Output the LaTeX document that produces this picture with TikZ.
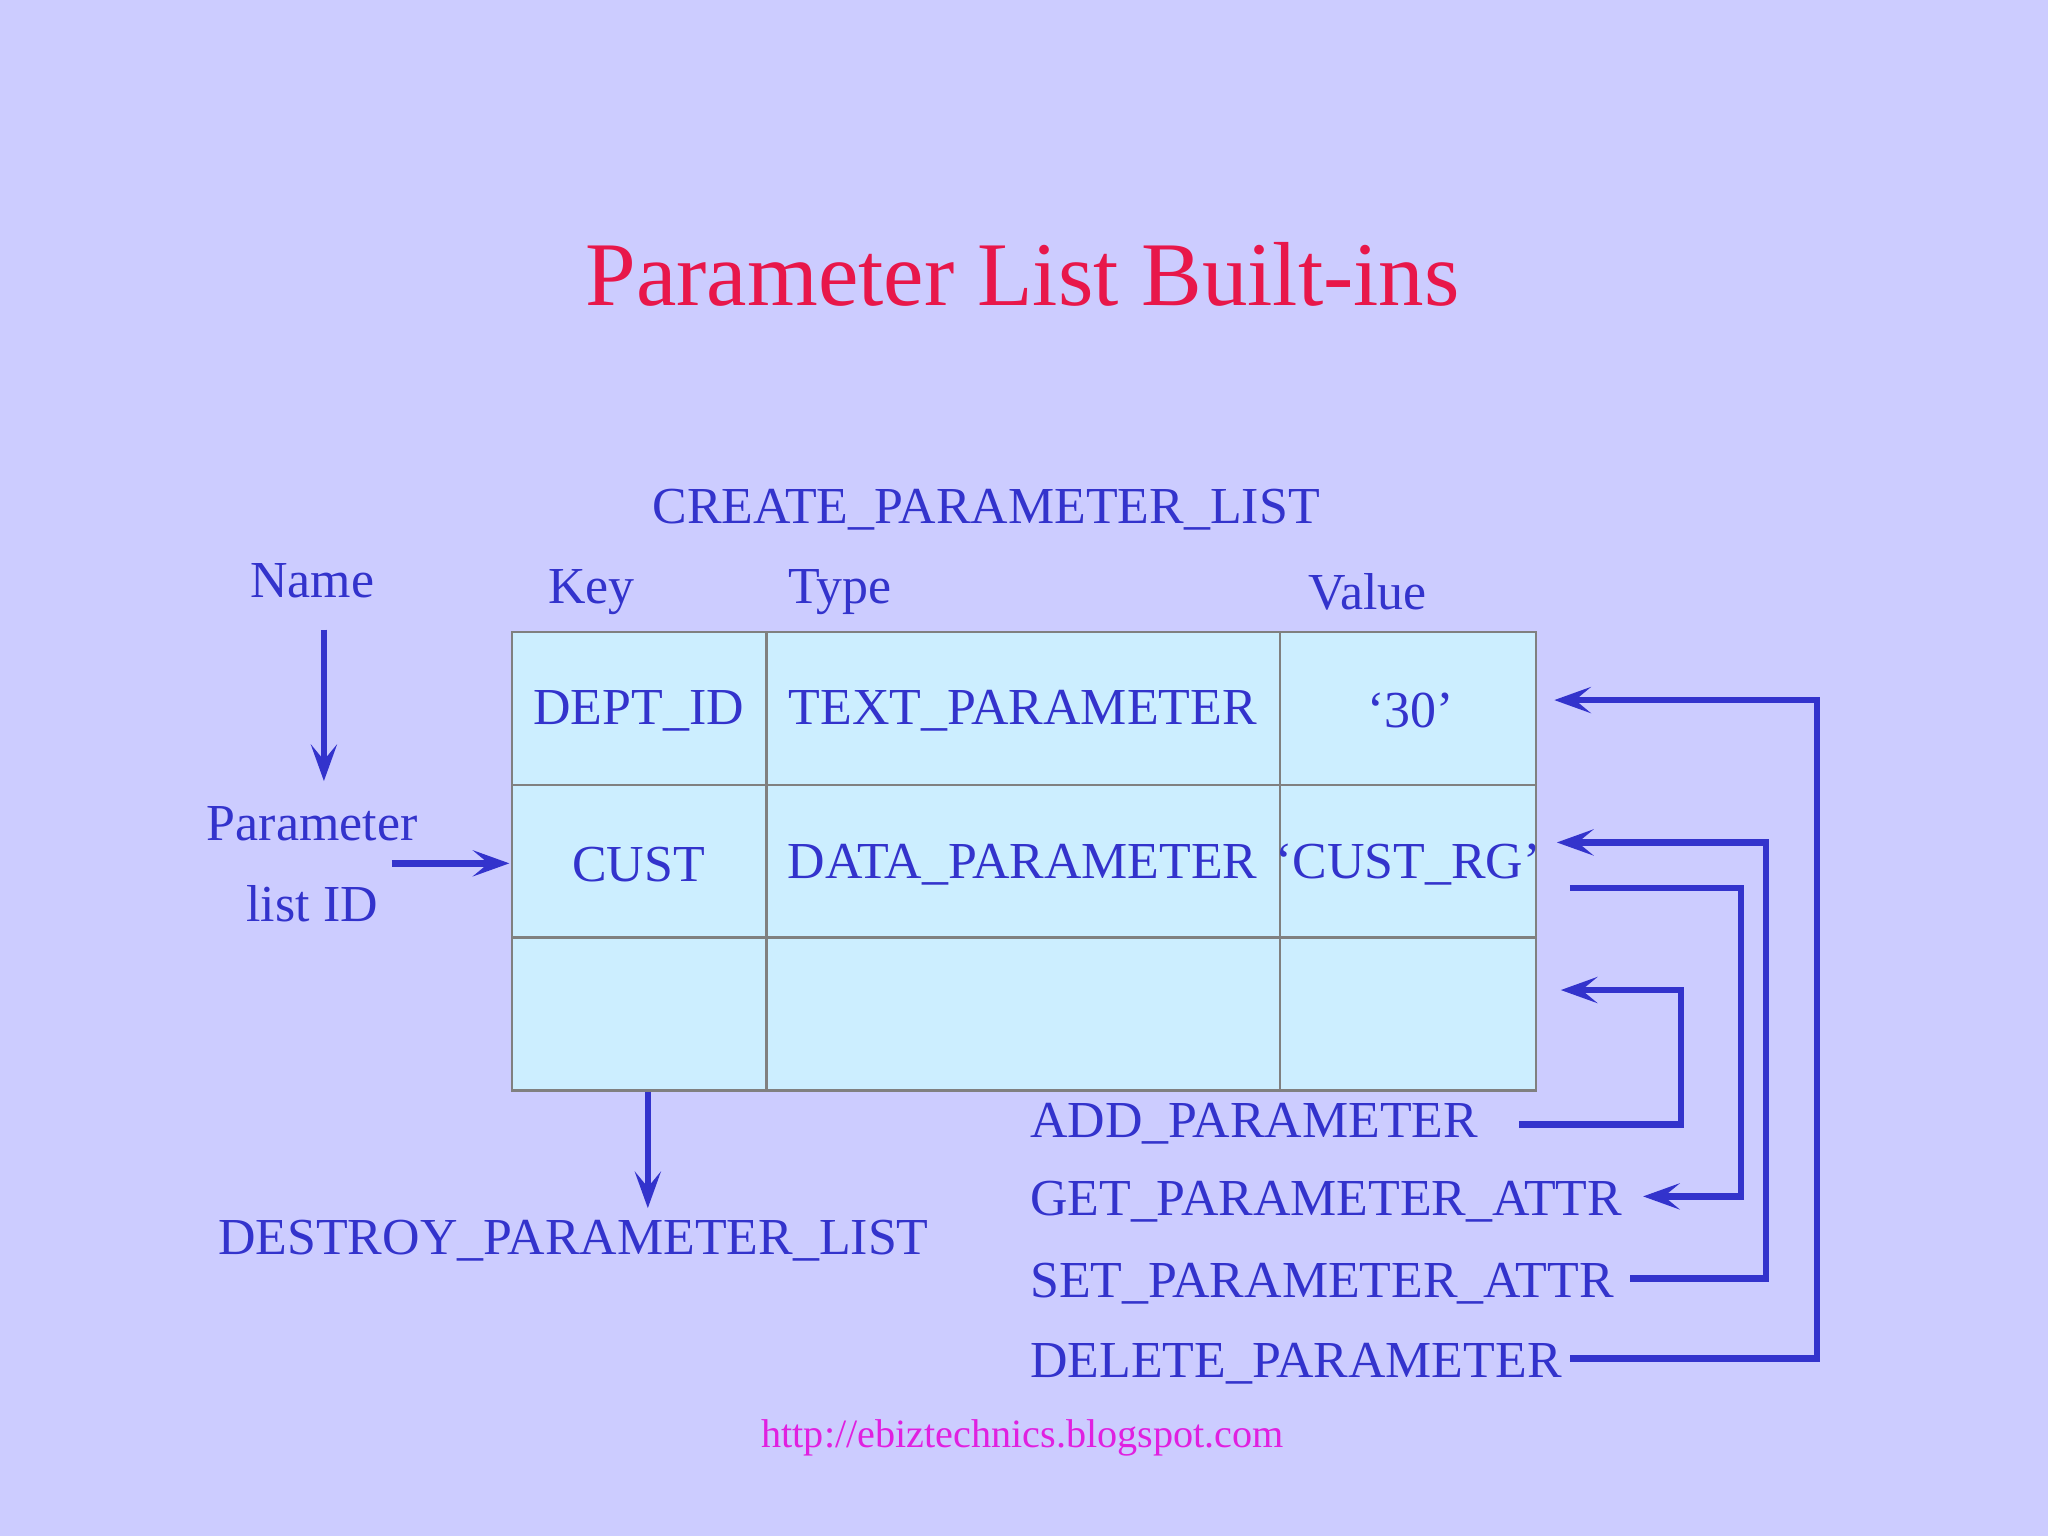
\documentclass[tikz,border=0pt]{standalone}
\usepackage{fontspec}
\setmainfont{Liberation Serif}
\usetikzlibrary{arrows.meta}
\definecolor{bg}{HTML}{CCCCFF}
\definecolor{cell}{HTML}{CCEEFF}
\definecolor{txt}{HTML}{3333CC}
\definecolor{ttl}{HTML}{E8174A}
\definecolor{url}{HTML}{E020E0}
\tikzset{
 lbl/.style={text=txt,font=\fontsize{11.3}{13}\selectfont,inner sep=0pt},
 lbll/.style={lbl,anchor=west},
 conn/.style={draw=txt,line width=0.05cm,-{Stealth[length=0.28cm,width=0.2cm,inset=0.12cm]}},
 cellbox/.style={fill=cell,draw=gray,line width=0.02cm}
}
\begin{document}
\begin{tikzpicture}[x=0.01cm,y=-0.01cm]
\fill[bg] (0,0) rectangle (1568,1176);
\useasboundingbox (0,0) rectangle (1568,1176);
\node[text=ttl,font=\fontsize{19.8}{22}\selectfont] (title) at (783,210) {Parameter List Built-ins};
% table
\foreach \x/\xx in {392/587,587/980,980/1176}{
 \foreach \y/\yy in {484/601,601/718,718/835}{
  \draw[cellbox] (\x,\y) rectangle (\xx,\yy);
 }}
\node[lbl] (create) at (755,390) {CREATE\_PARAMETER\_LIST};
\node[lbl] (name) at (239,445) {Name};
\node[lbl] (key) at (453,453) {Key};
\node[lbl] (type) at (643,453) {Type};
\node[lbl] (value) at (1047,453) {Value};
\node[lbl] (dept) at (489,544) {DEPT\_ID};
\node[lbl] (tp) at (783,544) {TEXT\_PARAMETER};
\node[lbl] (v30) at (1080,544) {‘30’};
\node[lbl] (cust) at (489,662) {CUST};
\node[lbl] (dp) at (783,662) {DATA\_PARAMETER};
\node[lbl] (vrg) at (1078,662) {‘CUST\_RG’};
\node[lbl] (p1) at (239,631) {Parameter};
\node[lbl] (p2) at (239,692) {list ID};
\node[lbl] (destroy) at (439,950) {DESTROY\_PARAMETER\_LIST};
\node[lbll] (add) at (788,860) {ADD\_PARAMETER};
\node[lbll] (get) at (788,920) {GET\_PARAMETER\_ATTR};
\node[lbll] (set) at (788,983) {SET\_PARAMETER\_ATTR};
\node[lbll] (del) at (788,1044) {DELETE\_PARAMETER};
\node[text=url,font=\fontsize{8.75}{10}\selectfont] (site) at (783,1101) {http://ebiztechnics.blogspot.com};
% connectors
\coordinate (n1) at (248,482); \coordinate (n2) at (248,598);
\draw[conn] (n1) -- (n2);
\coordinate (l1) at (300,661); \coordinate (l2) at (390,661);
\draw[conn] (l1) -- (l2);
\coordinate (d1) at (496,836); \coordinate (d2) at (496,925);
\draw[conn] (d1) -- (d2);
\coordinate (a1) at (1163,861); \coordinate (a2) at (1195,758);
\draw[conn] (a1) -- (1287,861) -- (1287,758) -- (a2);
\coordinate (g1) at (1202,680); \coordinate (g2) at (1258,916);
\draw[conn] (g1) -- (1333,680) -- (1333,916) -- (g2);
\coordinate (s1) at (1248,979); \coordinate (s2) at (1192,645);
\draw[conn] (s1) -- (1352,979) -- (1352,645) -- (s2);
\coordinate (e1) at (1202,1040); \coordinate (e2) at (1190,536);
\draw[conn] (e1) -- (1391,1040) -- (1391,536) -- (e2);
\end{tikzpicture}
\end{document}
